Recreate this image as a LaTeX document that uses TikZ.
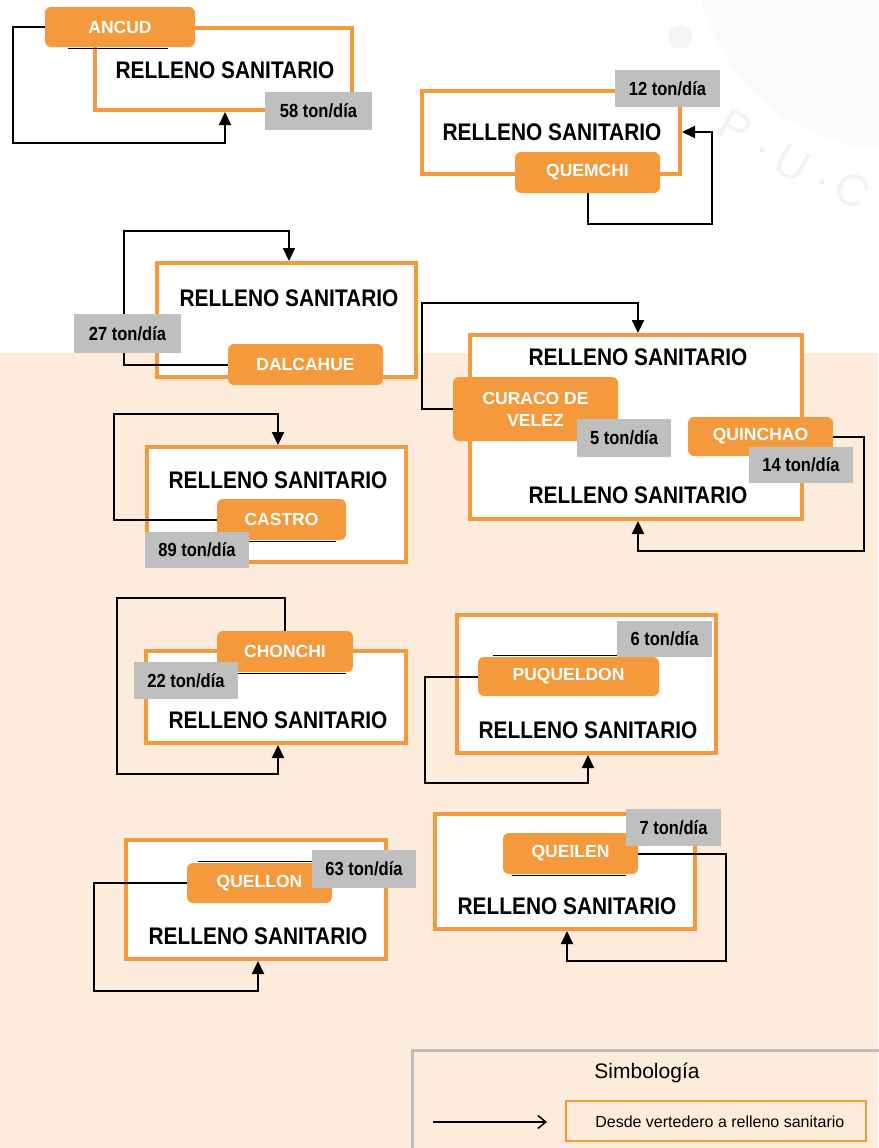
\documentclass[tikz,border=0pt]{standalone}
\usepackage{fontspec}
\setmainfont{Liberation Sans}
\newfontfamily\narrowfont[FakeStretch=0.87]{Liberation Sans}
\usetikzlibrary{arrows.meta}
\usepackage{xcolor}
\definecolor{rsorange}{RGB}{244,154,61}
\definecolor{rsgray}{RGB}{191,191,191}
\definecolor{rspeach}{RGB}{253,235,220}
\definecolor{legendgray}{RGB}{190,190,190}
\definecolor{wmgray}{RGB}{250,250,250}

\begin{document}
\begin{tikzpicture}[x=1pt,y=-1pt,>={Triangle[width=12pt,length=13pt]},semithick]
  \tikzstyle{relleno}=[draw=rsorange,line width=4pt,fill=white,inner sep=0pt]
  \tikzstyle{rstext}=[inner sep=0pt,font=\narrowfont\bfseries\fontsize{24}{28}\selectfont]
  \tikzstyle{comuna}=[fill=rsorange,rounded corners=6pt,text=white,inner sep=0pt,align=center,font=\bfseries\fontsize{17.5}{22}\selectfont]
  \tikzstyle{ton}=[fill=rsgray,inner sep=0pt,font=\narrowfont\bfseries\fontsize{19}{22}\selectfont]
  \tikzstyle{flow}=[->,line width=2pt]
  \tikzstyle{borde}=[line width=1pt]
  \tikzstyle{marca}=[rotate=-30,text=black!5,inner sep=0pt,font=\fontsize{45}{50}\selectfont]

  \useasboundingbox (0,0) rectangle (878,1148);
  \fill[white] (0,0) rectangle (878,353);
  \fill[rspeach] (0,353) rectangle (878,1148);
  \fill[wmgray] (895,-50) circle (200pt);
  \fill[black!4] (680,37) circle (12pt);
  \node[marca] (wmP) at (735,128) {P};
  \node[marca] (wmU) at (792,163) {U};
  \node[marca] (wmC) at (852,190) {C};
  \fill[black!5] (762,150) circle (3pt);
  \fill[black!5] (822,182) circle (3pt);

  % Ancud
  \node[relleno,minimum width=257pt,minimum height=82pt] (rA) at (223.5,69) {};
  \node[rstext] (tA) at (225,70) {RELLENO SANITARIO};
  \node[comuna,minimum width=150pt,minimum height=40pt] (lA) at (120,27) {ANCUD};
  \draw[borde] ([xshift=23pt,yshift=-1pt]lA.south west) -- ([xshift=-27pt,yshift=-1pt]lA.south east);
  \draw[flow] (lA.west) -| (13,143) -| (tA.center |- rA.south);
  \node[ton,minimum width=107pt,minimum height=38pt] (nA) at (318.5,111) {58 ton/día};

  % Quemchi
  \node[relleno,minimum width=258pt,minimum height=83pt] (rQ) at (551,132.5) {};
  \node[rstext] (tQ) at (552,132) {RELLENO SANITARIO};
  \node[comuna,minimum width=145pt,minimum height=41pt] (lQ) at (587.5,172.5) {QUEMCHI};
  \draw[flow] (lQ.south) |- (712,224) |- (tQ.center -| rQ.east);
  \node[ton,minimum width=105pt,minimum height=37pt] (nQ) at (667.5,88.5) {12 ton/día};

  % Dalcahue
  \node[relleno,minimum width=259pt,minimum height=114pt] (rD) at (286.5,320) {};
  \node[rstext] (tD) at (289,298) {RELLENO SANITARIO};
  \node[comuna,minimum width=155pt,minimum height=41pt] (lD) at (305.5,364.5) {DALCAHUE};
  \draw[flow] (lD.west) -| (124,231) -| (tD.center |- rD.north);
  \node[ton,minimum width=107pt,minimum height=39pt] (nD) at (127.5,333.5) {27 ton/día};

  % Curaco de Velez y Quinchao
  \node[relleno,minimum width=332pt,minimum height=184pt] (rC) at (636,427) {};
  \node[rstext] (tC1) at (638,357) {RELLENO SANITARIO};
  \node[rstext] (tC2) at (638,495) {RELLENO SANITARIO};
  \node[comuna,minimum width=165pt,minimum height=64pt] (lC) at (535.5,409) {CURACO DE\\VELEZ};
  \draw[flow] (lC.west) -| (422,303) -| (tC1.center |- rC.north);
  \node[ton,minimum width=94pt,minimum height=38pt] (nC) at (624,438) {5 ton/día};
  \node[comuna,minimum width=145pt,minimum height=39pt] (lQh) at (760.5,436.5) {QUINCHAO};
  \draw[flow] (lQh.east) -| (864,551) -| (tC2.center |- rC.south);
  \node[ton,minimum width=104pt,minimum height=36pt] (nQh) at (801,465) {14 ton/día};

  % Castro
  \node[relleno,minimum width=259pt,minimum height=115pt] (rCa) at (276.5,504.5) {};
  \node[rstext] (tCa) at (278,480) {RELLENO SANITARIO};
  \node[comuna,minimum width=129pt,minimum height=41pt] (lCa) at (281.5,519.5) {CASTRO};
  \draw[borde] ([yshift=-1pt]lCa.south west) -- ([xshift=-10pt,yshift=-1pt]lCa.south east);
  \draw[flow] (lCa.west) -| (114,414) -| (tCa.center |- rCa.north);
  \node[ton,minimum width=104pt,minimum height=36pt] (nCa) at (197,550) {89 ton/día};

  % Chonchi
  \node[relleno,minimum width=260pt,minimum height=92pt] (rCh) at (276,697) {};
  \node[rstext] (tCh) at (278,720) {RELLENO SANITARIO};
  \node[comuna,minimum width=136pt,minimum height=41pt] (lCh) at (285,651.5) {CHONCHI};
  \draw[borde] ([yshift=-1pt]lCh.south west) -- ([xshift=-7pt,yshift=-1pt]lCh.south east);
  \draw[flow] (lCh.north) |- (117,598) -- (117,774) -| (tCh.center |- rCh.south);
  \node[ton,minimum width=104pt,minimum height=37pt] (nCh) at (186,680.5) {22 ton/día};

  % Puqueldon
  \node[relleno,minimum width=259pt,minimum height=138pt] (rP) at (586.5,684) {};
  \node[rstext] (tP) at (588,730) {RELLENO SANITARIO};
  \node[comuna,minimum width=181pt,minimum height=39pt] (lP) at (568.5,676.5) {PUQUELDON};
  \draw[borde] ([xshift=15pt,yshift=1pt]lP.north west) -- ([yshift=1pt]lP.north east);
  \draw[flow] (lP.west) -| (425,783) -| (tP.center |- rP.south);
  \node[ton,minimum width=95pt,minimum height=36pt] (nP) at (664.5,639) {6 ton/día};

  % Quellon
  \node[relleno,minimum width=260pt,minimum height=119pt] (rQu) at (256,899.5) {};
  \node[rstext] (tQu) at (258,936) {RELLENO SANITARIO};
  \node[comuna,minimum width=145pt,minimum height=40pt] (lQu) at (259.5,883) {QUELLON};
  \draw[borde] ([xshift=11pt,yshift=1pt]lQu.north west) -- ([yshift=1pt]lQu.north east);
  \draw[flow] (lQu.west) -| (94,991) -| (tQu.center |- rQu.south);
  \node[ton,minimum width=104pt,minimum height=38pt] (nQu) at (364,869) {63 ton/día};

  % Queilen
  \node[relleno,minimum width=260pt,minimum height=115pt] (rQe) at (565,871.5) {};
  \node[rstext] (tQe) at (567,906) {RELLENO SANITARIO};
  \node[comuna,minimum width=135pt,minimum height=41pt] (lQe) at (570.5,853.5) {QUEILEN};
  \draw[borde] ([xshift=9pt,yshift=-1pt]lQe.south west) -- ([xshift=-12pt,yshift=-1pt]lQe.south east);
  \draw[flow] (lQe.east) -| (726,961) -| (tQe.center |- rQe.south);
  \node[ton,minimum width=95pt,minimum height=37pt] (nQe) at (673.5,827.5) {7 ton/día};

  % Simbologia
  \draw[draw=legendgray,line width=3pt] (412,1050) rectangle (895,1165);
  \node[font=\fontsize{21}{25}\selectfont] (sim) at (647,1073) {Simbología};
  \node[draw=rsorange,line width=2pt,minimum width=300pt,minimum height=40pt,inner sep=0pt] (desc) at (716,1121) {};
  \node[anchor=west,inner sep=0pt,font=\fontsize{16}{19}\selectfont] (desctxt) at (595,1122) {Desde vertedero a relleno sanitario};
  \coordinate (ley1) at (433,1122);
  \coordinate (ley2) at (547,1122);
  \draw[-{Straight Barb[length=8pt,width=13pt]},line width=1.5pt] (ley1) -- (ley2);
\end{tikzpicture}
\end{document}
